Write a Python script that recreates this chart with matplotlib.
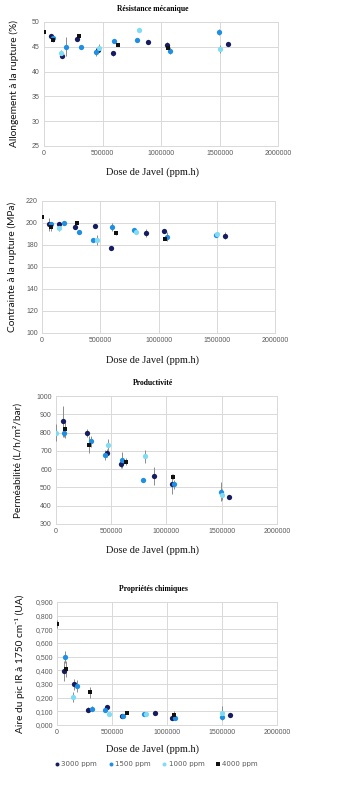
import matplotlib
matplotlib.use("Agg")
import matplotlib.pyplot as plt
import numpy as np
from matplotlib.ticker import FuncFormatter
from matplotlib.lines import Line2D

nan = np.nan

# Dose de Javel (ppm.h) for each concentration series
x_3000 = [60000, 150000, 285000, 458000, 591000, 890000, 1047000, 1568000]
x_1500 = [75000, 185000, 316000, 440000, 601000, 791000, 1072000, 1497000]
x_1000 = [0, 148000, 470000, 810000, 1500000]
x_4000 = [0, 80000, 300000, 633000, 1058000]

series_names = ["3000 ppm", "1500 ppm", "1000 ppm", "4000 ppm"]

# Allongement a la rupture (%)
allong_3000 = [47.1, 43.1, 46.6, 44.3, 43.7, 46.0, 45.4, 45.6]
allong_1500 = [46.8, 45.0, 45.0, 44.0, 46.2, 46.4, 44.2, 47.9]
allong_1000 = [nan, 43.7, 44.8, 48.3, 44.5]
allong_4000 = [48.0, 46.3, 47.1, 45.4, 44.8]
allong_err_3000 = [0.3, 0.3, 0.3, 0.4, 0.5, 0.3, 0.5, 0.3]
allong_err_1500 = [0.3, 1.9, 0.3, 0.8, 0.3, 0.3, 0.7, 0.6]
allong_err_1000 = [0, 0.6, 0.7, 0.3, 0.8]
allong_err_4000 = [0.2, 0.3, 0.3, 0.3, 0.4]

# Contrainte a la rupture (MPa)
contr_3000 = [198.8, 199.2, 196.7, 197.3, 177.7, 190.7, 192.5, 188.6]
contr_1500 = [198.8, 200.3, 191.9, 184.3, 196.4, 193.4, 187.4, 189.2]
contr_1000 = [nan, 195.8, 184.3, 191.9, 190.1]
contr_4000 = [205.8, 196.1, 199.8, 190.7, 185.2]
contr_err_3000 = [6.0, 1.0, 1.0, 1.0, 1.0, 3.5, 1.0, 3.0]
contr_err_1500 = [1.5, 1.0, 1.0, 1.0, 4.0, 1.0, 4.0, 1.0]
contr_err_1000 = [0, 3.0, 4.5, 1.0, 1.0]
contr_err_4000 = [0.5, 3.0, 1.0, 2.0, 1.0]

# Permeabilite (L/h/m2/bar)
perm_3000 = [862, nan, 798, 688, 630, 562, 517, 450]
perm_1500 = [800, nan, 752, 677, 650, 541, 517, 477]
perm_1000 = [800, nan, 732, 670, 459]
perm_4000 = [nan, 818, 734, 641, 559]
perm_err_3000 = [85, 0, 20, 20, 25, 50, 55, 8]
perm_err_1500 = [25, 0, 30, 28, 42, 10, 25, 52]
perm_err_1000 = [45, 0, 33, 37, 30]
perm_err_4000 = [0, 45, 45, 20, 15]

# Aire du pic IR a 1750 cm-1 (UA)
ir_3000 = [0.395, 0.297, 0.113, 0.132, 0.064, 0.088, 0.054, 0.071]
ir_1500 = [0.495, 0.284, 0.120, 0.113, 0.066, 0.078, 0.051, 0.061]
ir_1000 = [nan, 0.204, 0.078, 0.083, 0.088]
ir_4000 = [0.740, 0.410, 0.240, 0.088, 0.074]
ir_err_3000 = [0.07, 0.04, 0.015, 0.015, 0.01, 0.01, 0.02, 0.01]
ir_err_1500 = [0.045, 0.045, 0.02, 0.01, 0.01, 0.01, 0.01, 0.02]
ir_err_1000 = [0, 0.035, 0.01, 0.01, 0.05]
ir_err_4000 = [0.03, 0.06, 0.04, 0.01, 0.025]

colors = ["#161c62", "#1e8fe3", "#80dcf5", "#111111"]
markers = ["o", "o", "o", "s"]
msizes = [3.8, 3.8, 3.8, 3.1]
grid_c = "#d9d9d9"
tick_c = "#595959"
xs = [x_3000, x_1500, x_1000, x_4000]

panels = [
    dict(title="Résistance mécanique", ylabel="Allongement à la rupture (%)",
         ys=[allong_3000, allong_1500, allong_1000, allong_4000],
         errs=[allong_err_3000, allong_err_1500, allong_err_1000, allong_err_4000],
         ylim=(25, 50), ystep=5, fmt=lambda v, p: f"{v:.0f}",
         rect=[0.126, 0.8145, 0.669, 0.1576], title_y=9, xlab_y=172, ylab_x=14),
    dict(title=None, ylabel="Contrainte à la rupture (MPa)",
         ys=[contr_3000, contr_1500, contr_1000, contr_4000],
         errs=[contr_err_3000, contr_err_1500, contr_err_1000, contr_err_4000],
         ylim=(100, 220), ystep=20, fmt=lambda v, p: f"{v:.0f}",
         rect=[0.12, 0.5769, 0.666, 0.1677], title_y=None, xlab_y=360, ylab_x=12),
    dict(title="Productivité", ylabel="Perméabilité (L/h/m²/bar)",
         ys=[perm_3000, perm_1500, perm_1000, perm_4000],
         errs=[perm_err_3000, perm_err_1500, perm_err_1000, perm_err_4000],
         ylim=(300, 1000), ystep=100, fmt=lambda v, p: f"{v:.0f}",
         rect=[0.16, 0.3342, 0.631, 0.1626], title_y=383, xlab_y=550, ylab_x=18),
    dict(title="Propriétés chimiques", ylabel="Aire du pic IR à 1750 cm⁻¹ (UA)",
         ys=[ir_3000, ir_1500, ir_1000, ir_4000],
         errs=[ir_err_3000, ir_err_1500, ir_err_1000, ir_err_4000],
         ylim=(0, 0.9), ystep=0.1, fmt=lambda v, p: f"{v:.3f}".replace(".", ","),
         rect=[0.163, 0.0788, 0.629, 0.1563], title_y=589, xlab_y=749, ylab_x=20),
]

W, H = 350, 787
fig = plt.figure(figsize=(W / 100, H / 100), dpi=100)

for pn in panels:
    ax = fig.add_axes(pn["rect"])
    for i in range(4):
        ax.errorbar(xs[i], pn["ys"][i], yerr=pn["errs"][i], fmt=markers[i],
                    color=colors[i], ms=msizes[i], mew=0, ecolor="#8c8c8c",
                    elinewidth=0.7, capsize=1.3, capthick=0.7, zorder=3)
    ax.set_xlim(0, 2000000)
    ax.set_ylim(*pn["ylim"])
    ax.set_xticks(np.arange(0, 2000001, 500000))
    ax.set_yticks(np.arange(pn["ylim"][0], pn["ylim"][1] + pn["ystep"] / 2, pn["ystep"]))
    ax.xaxis.set_major_formatter(FuncFormatter(lambda v, p: f"{v:.0f}"))
    ax.yaxis.set_major_formatter(FuncFormatter(pn["fmt"]))
    ax.grid(True, color=grid_c, lw=0.7)
    ax.set_axisbelow(True)
    for s in ax.spines.values():
        s.set_color(grid_c)
        s.set_linewidth(0.7)
    ax.tick_params(length=0, labelsize=5, labelcolor=tick_c, pad=3)
    for lab in ax.get_xticklabels() + ax.get_yticklabels():
        lab.set_family("Liberation Sans")
    if pn["title"]:
        fig.text(153 / W, 1 - pn["title_y"] / H, pn["title"], ha="center", va="center",
                 family="Liberation Serif", weight="bold", fontsize=5.5)
    fig.text(153 / W, 1 - pn["xlab_y"] / H, "Dose de Javel (ppm.h)", ha="center",
             va="center", family="Liberation Serif", fontsize=7.5, color="#111111")
    r = pn["rect"]
    fig.text(pn["ylab_x"] / W, r[1] + r[3] / 2, pn["ylabel"], rotation=90, ha="center",
             va="center", family=["Lato", "DejaVu Sans"], fontsize=7.3, color="#111111")

handles = [Line2D([], [], ls="none", marker=markers[i], color=colors[i],
                  ms=msizes[i] * 0.75, mew=0) for i in range(4)]
fig.legend(handles, series_names, loc="center", bbox_to_anchor=(156 / W, 1 - 764 / H),
           ncol=4, frameon=False, fontsize=5, handletextpad=0.2, columnspacing=1.6,
           handlelength=0.8, labelcolor=tick_c)

fig.savefig("out.png", dpi=100)
